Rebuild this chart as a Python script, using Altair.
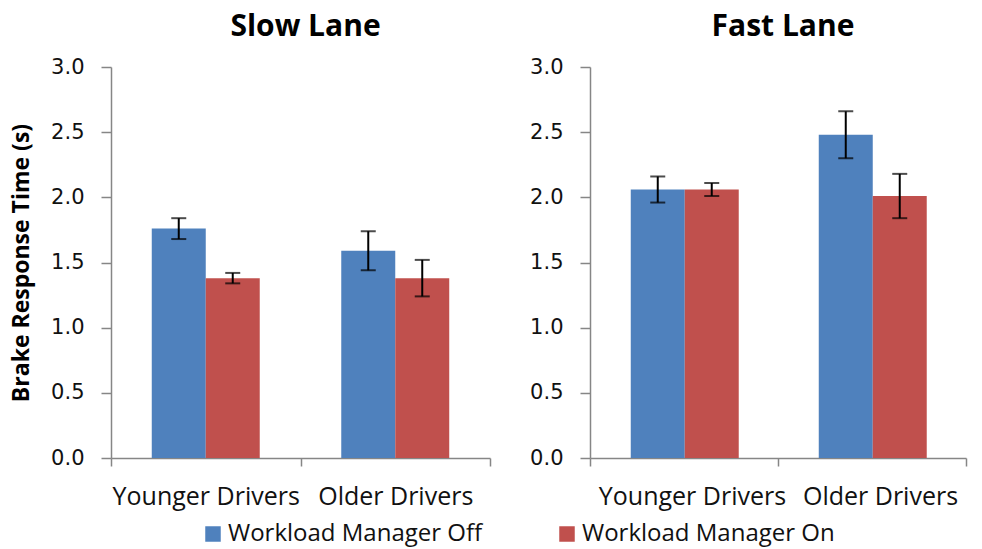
import altair as alt
import pandas as pd

lanes = ["Slow Lane", "Slow Lane", "Slow Lane", "Slow Lane",
         "Fast Lane", "Fast Lane", "Fast Lane", "Fast Lane"]
groups = ["Younger Drivers", "Younger Drivers", "Older Drivers", "Older Drivers",
          "Younger Drivers", "Younger Drivers", "Older Drivers", "Older Drivers"]
conditions = ["Workload Manager Off", "Workload Manager On",
              "Workload Manager Off", "Workload Manager On",
              "Workload Manager Off", "Workload Manager On",
              "Workload Manager Off", "Workload Manager On"]
values = [1.76, 1.38, 1.59, 1.38, 2.06, 2.06, 2.48, 2.01]
errors = [0.08, 0.04, 0.15, 0.14, 0.10, 0.05, 0.18, 0.17]

group_order = ["Younger Drivers", "Older Drivers"]
cond_order = ["Workload Manager Off", "Workload Manager On"]
colors = ["#4F81BD", "#C0504D"]
y_ticks = [0.0, 0.5, 1.0, 1.5, 2.0, 2.5, 3.0]

df = pd.DataFrame({"Lane": lanes, "Group": groups, "Condition": conditions,
                   "Value": values, "Err": errors})

LABEL_FONT = "Open Sans"
TICK_FONT = "DejaVu Sans"


def panel(lane, width, ytitle, label_dx):
    d = df[df.Lane == lane]
    yaxis = alt.Axis(values=y_ticks, format=".1f", grid=False, tickSize=10,
                     labelPadding=17, labelFont=TICK_FONT, labelFontSize=21,
                     labelColor="#111111", minExtent=62, maxExtent=62,
                     titleFont=LABEL_FONT, titleFontSize=23, titleFontWeight="bold",
                     titlePadding=16, titleColor="#000000")
    yscale = alt.Scale(domain=[0, 3], nice=False)
    base = alt.Chart(d).transform_calculate(
        Lower="datum.Value - datum.Err", Upper="datum.Value + datum.Err"
    ).encode(
        x=alt.X("Group:N", sort=group_order, title=None,
                scale=alt.Scale(paddingInner=0, paddingOuter=0),
                axis=alt.Axis(tickBand="extent", labelAngle=0, tickSize=8,
                              labelPadding=18, labelFont=LABEL_FONT,
                              labelFontSize=25, labelColor="#111111",
                              labelLimit=400, labelOffset=label_dx)),
        xOffset=alt.XOffset("Condition:N", sort=cond_order,
                            scale=alt.Scale(paddingInner=0, paddingOuter=0.755)),
    )
    bars = base.mark_bar().encode(
        y=alt.Y("Value:Q", scale=yscale, axis=yaxis, title=ytitle),
        color=alt.Color("Condition:N", sort=cond_order,
                        scale=alt.Scale(domain=cond_order, range=colors),
                        legend=alt.Legend(title=None)),
    )
    rules = base.mark_rule(color="black", strokeWidth=2).encode(
        y=alt.Y("Lower:Q", scale=yscale, axis=yaxis, title=ytitle),
        y2="Upper:Q",
    )
    cap_hi = base.mark_tick(color="black", thickness=2, size=15).encode(
        y=alt.Y("Upper:Q", scale=yscale, axis=yaxis, title=ytitle))
    cap_lo = base.mark_tick(color="black", thickness=2, size=15).encode(
        y=alt.Y("Lower:Q", scale=yscale, axis=yaxis, title=ytitle))
    return alt.layer(bars, rules, cap_hi, cap_lo).properties(
        width=width, height=391,
        title=alt.Title(lane, font=LABEL_FONT, fontSize=30, fontWeight="bold",
                        color="#000000", offset=14, dx=5),
    )


left = panel("Slow Lane", 379, "Brake Response Time (s)", 0)
right = panel("Fast Lane", 376, None, 8)

chart = alt.hconcat(left, right, spacing=37).properties(
    padding={"left": 10, "top": 12, "right": 10, "bottom": 4},
    background="#ffffff",
).configure_view(stroke=None).configure_axis(
    domainColor="#868686", tickColor="#868686", domainWidth=1.5, tickWidth=1.5,
).configure_legend(
    orient="none", legendX=90, legendY=455, direction="horizontal",
    symbolType="square", symbolSize=240, symbolStrokeWidth=0,
    labelFont=LABEL_FONT, labelFontSize=24, labelColor="#111111",
    columnPadding=72, labelOffset=3, labelLimit=400,
)

chart.save("out.html", embed_options={"renderer": "svg", "actions": False})
